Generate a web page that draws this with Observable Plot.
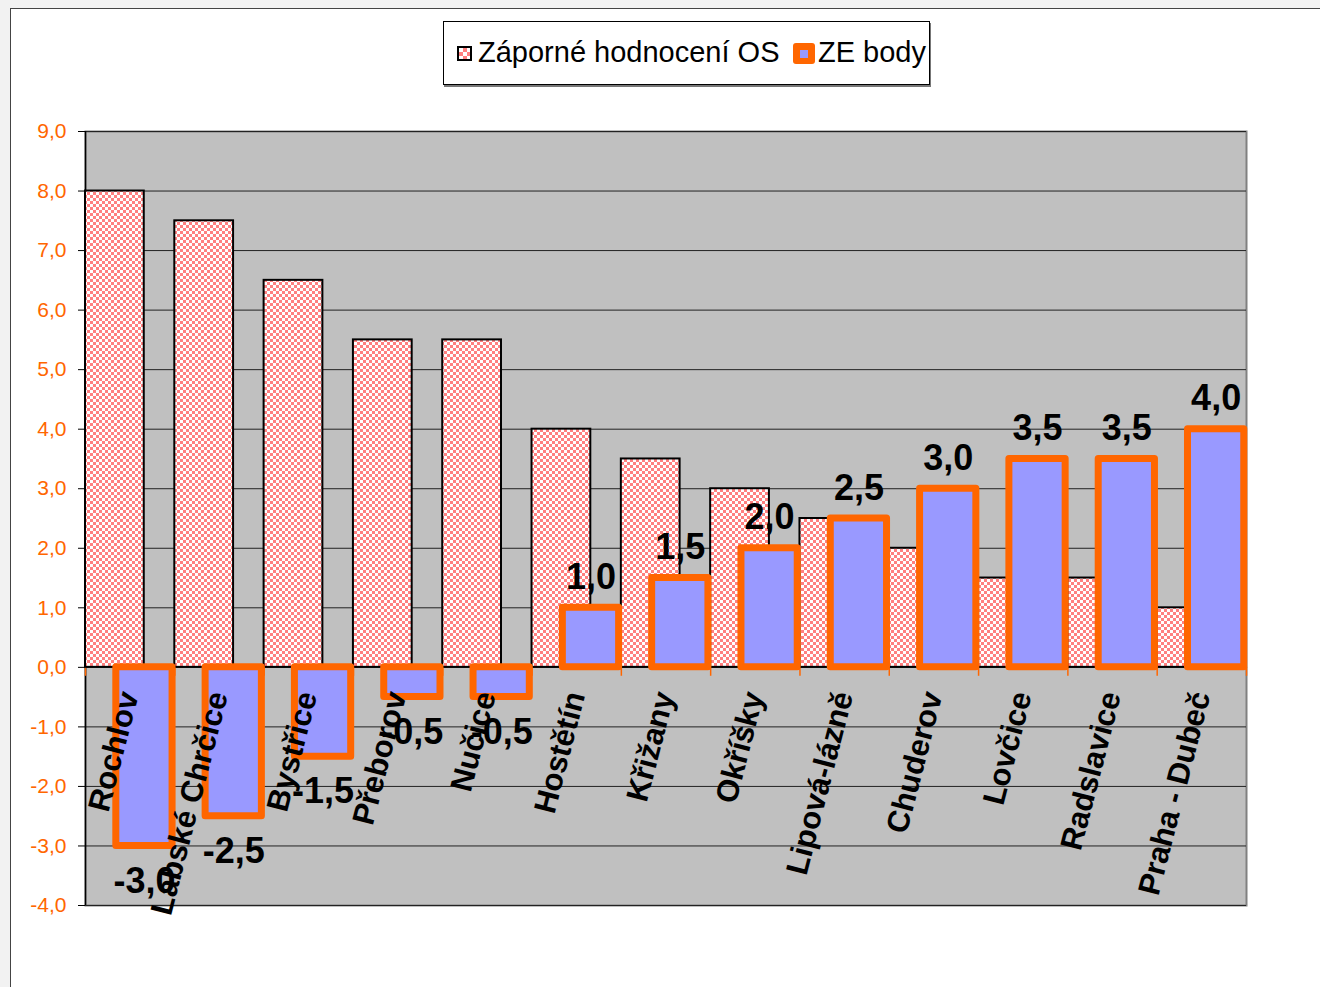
<!DOCTYPE html>
<html>
<head>
<meta charset="utf-8">
<script src="https://cdn.jsdelivr.net/npm/d3@7"></script>
<script src="https://cdn.jsdelivr.net/npm/@observablehq/plot@0.6"></script>
<style>
  html, body { margin: 0; padding: 0; width: 1320px; height: 987px; overflow: hidden; background: #f2f2f2; font-family: "Liberation Sans", Arial, sans-serif; }
  #chartArea { position: absolute; left: 10px; top: 8px; width: 1330px; height: 1000px; background: #fff; border: 1px solid #444; }
  #plot { position: absolute; left: 0; top: 0; }
  #legend { position: absolute; left: 443px; top: 21px; width: 485px; height: 62px; border: 1px solid #000; background: #fff; box-shadow: 1px 2px 0 #777; }
  .sw1 { position: absolute; left: 457px; top: 46px; width: 11px; height: 11px; border: 2px solid #000; background: repeating-conic-gradient(#ff8080 0 25%, #fff 0 50%) 0 0 / 8px 8px; }
  .sw2 { position: absolute; left: 793px; top: 43px; width: 22px; height: 21px; border-radius: 3px; background: #ff6600; }
  .sw2 i { position: absolute; left: 7px; top: 7px; width: 8px; height: 8px; background: #9999ff; }
  .lt { position: absolute; font-size: 29px; line-height: 29px; color: #000; white-space: nowrap; }
</style>
</head>
<body>
<div id="chartArea"></div>
<div id="plot"></div>
<div id="legend"></div>
<div class="sw1"></div>
<div class="lt" id="lt1" style="left:478px; top:38px;"></div>
<div class="sw2"><i></i></div>
<div class="lt" id="lt2" style="left:818px; top:38px;"></div>
<script>
const categories = ["Rochlov", "Labské Chrčice", "Bystřice", "Přeborov", "Nučice", "Hostětín", "Křižany", "Okříšky", "Lipová-lázně", "Chuderov", "Lovčice", "Radslavice", "Praha - Dubeč"];
const seriesNames = ["Záporné hodnocení OS", "ZE body"];
const zaporneHodnoceni = [8.0, 7.5, 6.5, 5.5, 5.5, 4.0, 3.5, 3.0, 2.5, 2.0, 1.5, 1.5, 1.0];
const zeBody = [-3.0, -2.5, -1.5, -0.5, -0.5, 1.0, 1.5, 2.0, 2.5, 3.0, 3.5, 3.5, 4.0];
const yTicks = [-4, -3, -2, -1, 0, 1, 2, 3, 4, 5, 6, 7, 8, 9];

document.getElementById("lt1").textContent = seriesNames[0];
document.getElementById("lt2").textContent = seriesNames[1];

const fmt = v => v.toFixed(1).replace(".", ",");
const idx = categories.map((d, i) => i);
const bounds = d3.range(categories.length + 1);
const font = '"Liberation Sans", Arial, sans-serif';

const s1 = [0, 0.658];
const s2 = [0.345, 0.975];
const s2mid = (s2[0] + s2[1]) / 2;

const svg = Plot.plot({
  width: 1320,
  height: 987,
  marginLeft: 85,
  marginRight: 74,
  marginTop: 131,
  marginBottom: 82,
  style: { background: "transparent", fontFamily: font, overflow: "visible" },
  x: { type: "linear", domain: [0, categories.length], axis: null },
  y: { domain: [-4, 9], axis: null },
  marks: [
    Plot.frame({ fill: "#C0C0C0", stroke: "#808080", strokeWidth: 2 }),
    Plot.ruleY(yTicks, { stroke: "#222", strokeWidth: 1 }),
    Plot.ruleX([0], { y1: -4, y2: 9, stroke: "#000", strokeWidth: 1.5 }),
    Plot.axisY({
      ticks: yTicks,
      tickSize: 7,
      tickPadding: 12,
      tickFormat: fmt,
      fontSize: 21,
      stroke: "#000",
      fill: "#FF6600",
      label: null
    }),
    Plot.ruleX(bounds, { x: d => d, y1: 0, y2: -0.15, stroke: "#FF6600", strokeWidth: 1.5 }),
    Plot.rectY(idx, {
      x1: i => i + s1[0], x2: i => i + s1[1],
      y1: 0, y2: i => zaporneHodnoceni[i],
      fill: "url(#chk)", stroke: "#000", strokeWidth: 2
    }),
    Plot.rectY(idx, {
      x1: i => i + s2[0], x2: i => i + s2[1],
      y1: 0, y2: i => zeBody[i],
      fill: "#9999FF", stroke: "#FF6600", strokeWidth: 7, strokeLinejoin: "round"
    }),
    Plot.text(idx, {
      x: i => i + 0.5, y: 0,
      text: i => categories[i],
      textAnchor: "end", rotate: -75.5,
      dx: -1, dy: 25,
      fontSize: 31, fontWeight: "bold", fill: "#000"
    }),
    Plot.text(idx.filter(i => zeBody[i] >= 0), {
      x: i => i + s2mid, y: i => zeBody[i],
      text: i => fmt(zeBody[i]),
      lineAnchor: "bottom", dy: -19,
      fontSize: 36, fontWeight: "bold", fill: "#000"
    }),
    Plot.text(idx.filter(i => zeBody[i] < 0), {
      x: i => i + s2mid, y: i => zeBody[i],
      text: i => fmt(zeBody[i]),
      lineAnchor: "top", dy: 21,
      fontSize: 36, fontWeight: "bold", fill: "#000"
    })
  ]
});

d3.select(svg).insert("defs", ":first-child").html(
  '<pattern id="chk" width="6" height="6" patternUnits="userSpaceOnUse">' +
  '<rect width="6" height="6" fill="#ff8080"/>' +
  '<rect width="3" height="3" fill="#ffffff"/>' +
  '<rect x="3" y="3" width="3" height="3" fill="#ffffff"/>' +
  '</pattern>'
);

document.getElementById("plot").appendChild(svg);
</script>
</body>
</html>
